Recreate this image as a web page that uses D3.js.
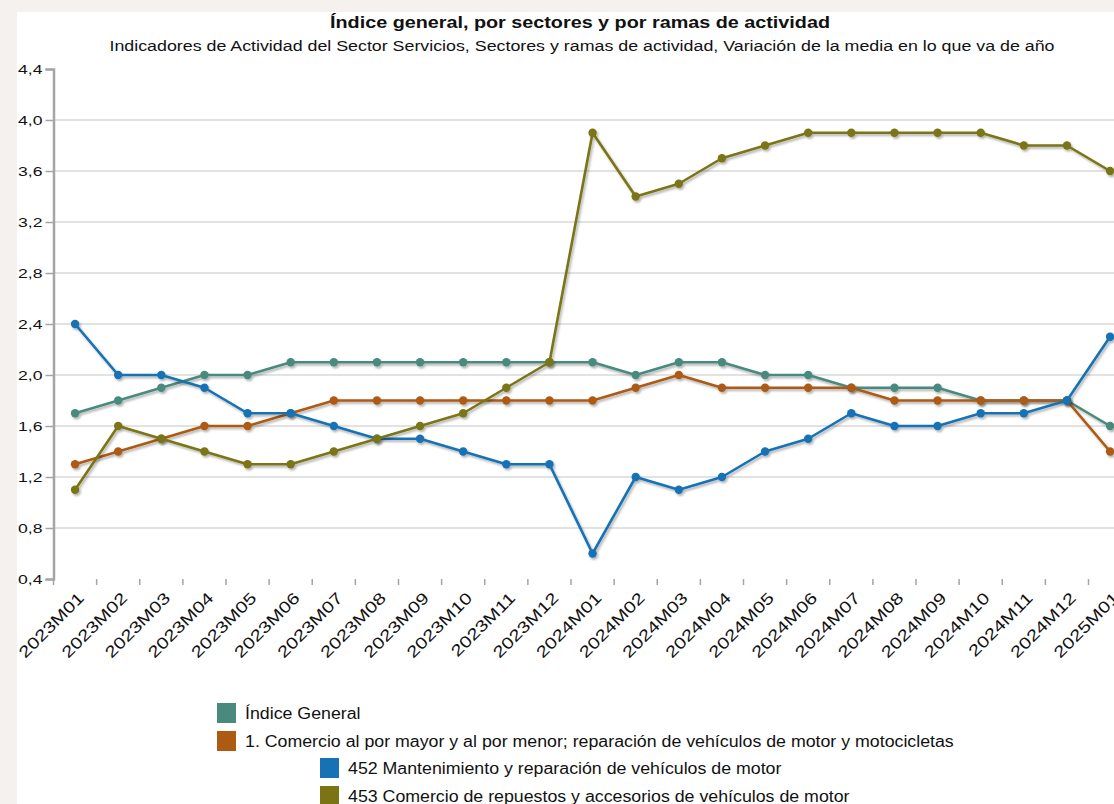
<!DOCTYPE html>
<html>
<head>
<meta charset="utf-8">
<script src="https://cdn.jsdelivr.net/npm/d3@7"></script>
<style>
  html, body { margin: 0; padding: 0; background: #f4f1ee; }
  svg { display: block; }
  text { font-family: "Liberation Sans", Arial, sans-serif; fill: #111; }
</style>
</head>
<body>
<svg id="chart" width="1114" height="804"></svg>
<script>
const categories = ["2023M01","2023M02","2023M03","2023M04","2023M05","2023M06","2023M07","2023M08","2023M09","2023M10","2023M11","2023M12",
  "2024M01","2024M02","2024M03","2024M04","2024M05","2024M06","2024M07","2024M08","2024M09","2024M10","2024M11","2024M12","2025M01"];
const seriesNames = ["Índice General",
  "1. Comercio al por mayor y al por menor; reparación de vehículos de motor y motocicletas",
  "452 Mantenimiento y reparación de vehículos de motor",
  "453 Comercio de repuestos y accesorios de vehículos de motor"];
const indiceGeneral = [1.7,1.8,1.9,2.0,2.0,2.1,2.1,2.1,2.1,2.1,2.1,2.1, 2.1,2.0,2.1,2.1,2.0,2.0,1.9,1.9,1.9,1.8,1.8,1.8,1.6];
const comercio      = [1.3,1.4,1.5,1.6,1.6,1.7,1.8,1.8,1.8,1.8,1.8,1.8, 1.8,1.9,2.0,1.9,1.9,1.9,1.9,1.8,1.8,1.8,1.8,1.8,1.4];
const mant452       = [2.4,2.0,2.0,1.9,1.7,1.7,1.6,1.5,1.5,1.4,1.3,1.3, 0.6,1.2,1.1,1.2,1.4,1.5,1.7,1.6,1.6,1.7,1.7,1.8,2.3];
const repuestos453  = [1.1,1.6,1.5,1.4,1.3,1.3,1.4,1.5,1.6,1.7,1.9,2.1, 3.9,3.4,3.5,3.7,3.8,3.9,3.9,3.9,3.9,3.9,3.8,3.8,3.6];
const yTicks = [0.4,0.8,1.2,1.6,2.0,2.4,2.8,3.2,3.6,4.0,4.4];
const colors = ["#4a8a7e","#ad5a12","#1672b5","#7a7414"];
const title = "Índice general, por sectores y por ramas de actividad";
const subtitle = "Indicadores de Actividad del Sector Servicios, Sectores y ramas de actividad, Variación de la media en lo que va de año";

const seriesValues = [indiceGeneral, comercio, mant452, repuestos453];

const svg = d3.select("#chart");
const defs = svg.append("defs");
const f = defs.append("filter").attr("id","shadow").attr("x","-20%").attr("y","-20%").attr("width","140%").attr("height","140%");
f.append("feDropShadow").attr("dx",1.5).attr("dy",2).attr("stdDeviation",1.2).attr("flood-color","#000").attr("flood-opacity",0.3);

// white panel
svg.append("rect").attr("x",17).attr("y",12).attr("width",1114-17).attr("height",804-12).attr("fill","#fff");

const plotLeft = 53.5, plotTop = 69, plotBottom = 579;
const step = 43.125;
const x = d3.scaleBand().domain(categories).range([plotLeft, plotLeft + step*categories.length]);
const y = d3.scaleLinear().domain([0.4, 4.4]).range([plotBottom, plotTop]);

function fit(sel, w) {
  sel.attr("textLength", w).attr("lengthAdjust","spacingAndGlyphs");
}
function stretch(sel, k) {
  sel.each(function(){ const l = this.getComputedTextLength(); d3.select(this).attr("textLength", l*k).attr("lengthAdjust","spacingAndGlyphs"); });
}

// titles
svg.append("text").attr("x",580).attr("y",28).attr("text-anchor","middle")
  .style("font-weight","bold").style("font-size","16px").text(title).call(fit, 500);
svg.append("text").attr("x",582).attr("y",51).attr("text-anchor","middle")
  .style("font-size","14px").text(subtitle).call(fit, 945);

// gridlines
const plotRight = x.range()[1];
svg.append("g").selectAll("line").data(yTicks.slice(1, -1)).join("line")
  .attr("x1", plotLeft).attr("x2", plotRight).attr("y1", d=>y(d)).attr("y2", d=>y(d))
  .attr("stroke","#d9d9d9").attr("stroke-width",1.5);

// top border
svg.append("line").attr("x1",plotLeft).attr("x2",plotRight).attr("y1",y(4.4)).attr("y2",y(4.4))
  .attr("stroke","#9a9a9a").attr("stroke-width",2.2).attr("filter","url(#shadow)");

// y axis
const yAxis = d3.axisLeft(y).tickValues(yTicks).tickSize(8).tickPadding(3)
  .tickFormat(d => d3.format(".1f")(d).replace(".", ","));
const gy = svg.append("g").attr("transform",`translate(${plotLeft},0)`).call(yAxis);
gy.select(".domain").attr("stroke","#a5a5a5").attr("stroke-width",2.5);
gy.selectAll(".tick line").attr("stroke","#a5a5a5").attr("stroke-width",1.5);
gy.selectAll(".tick text").style("font-size","13.5px").attr("fill","#111").call(stretch, 1.3);

// x axis
const xAxis = d3.axisBottom(x).tickSize(0).tickFormat(d=>d);
const gx = svg.append("g").attr("transform",`translate(0,${plotBottom})`).call(xAxis);
gx.select(".domain").attr("stroke","#a5a5a5").attr("stroke-width",2.5).attr("filter","url(#shadow)");
gx.selectAll(".tick text").style("font-size","16px").attr("fill","#111")
  .attr("text-anchor","end").attr("dy",null).attr("y",0)
  .attr("transform","translate(10,20) rotate(-45)").call(stretch, 1.27);
// boundary ticks
svg.append("g").selectAll("line").data(categories).join("line")
  .attr("x1", d=>x(d)).attr("x2", d=>x(d)).attr("y1", plotBottom).attr("y2", plotBottom+6)
  .attr("stroke","#a5a5a5").attr("stroke-width",1.5);

// series
const line = d3.line().x((d,i)=>x(categories[i]) + x.bandwidth()/2).y(d=>y(d));
const gs = svg.append("g");
seriesValues.forEach((vals, s) => {
  const g = gs.append("g").attr("filter","url(#shadow)");
  g.append("path").datum(vals).attr("d", line).attr("fill","none")
    .attr("stroke", colors[s]).attr("stroke-width",2.6).attr("stroke-linejoin","round");
  g.selectAll("circle").data(vals).join("circle")
    .attr("cx",(d,i)=>x(categories[i]) + x.bandwidth()/2).attr("cy",d=>y(d)).attr("r",4.2)
    .attr("fill", colors[s]);
});

// legend
const legendPos = [[217,703],[217,731],[320,758],[320,786]];
const lg = svg.append("g");
seriesNames.forEach((n, i) => {
  const [lx, ly] = legendPos[i];
  lg.append("rect").attr("x",lx).attr("y",ly).attr("width",19).attr("height",20).attr("fill",colors[i]);
  lg.append("text").attr("x",lx+28).attr("y",ly+16).style("font-size","16px").text(n).call(stretch, 1.11);
});
</script>
</body>
</html>
